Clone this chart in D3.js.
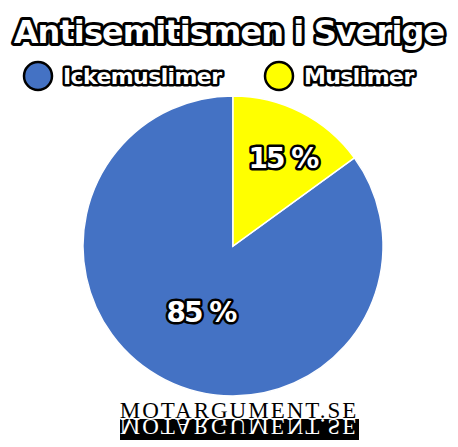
<!DOCTYPE html>
<html>
<head>
<meta charset="utf-8">
<script src="https://cdn.jsdelivr.net/npm/d3@7"></script>
<style>
  body { margin: 0; background: #fff; }
  text { font-family: "DejaVu Sans", sans-serif; }
</style>
</head>
<body>
<div id="chart"></div>
<script>
const WIDTH = 458;
const HEIGHT = 447;

const CATEGORIES = ["Ickemuslimer", "Muslimer"];
const VALUES = [85, 15];
const COLORS = ["#4472c4", "#ffff00"];
const TITLE = "Antisemitismen i Sverige";
const WATERMARK = "MOTARGUMENT.SE";

const svg = d3.select("#chart").append("svg")
    .attr("width", WIDTH)
    .attr("height", HEIGHT);

// titel
svg.append("text")
    .attr("x", 229)
    .attr("y", 43)
    .attr("text-anchor", "middle")
    .attr("font-size", 32)
    .attr("font-weight", "bold")
    .attr("letter-spacing", -0.9)
    .attr("fill", "white")
    .attr("stroke", "black")
    .attr("stroke-width", 6)
    .attr("stroke-linejoin", "round")
    .attr("paint-order", "stroke")
    .text(TITLE);

// legend
const legendX = [38, 279];
const legend = svg.selectAll("g.legend")
    .data(CATEGORIES)
    .join("g")
    .attr("class", "legend")
    .attr("transform", (d, i) => `translate(${legendX[i]}, 76)`);

legend.append("circle")
    .attr("r", 14)
    .attr("fill", (d, i) => COLORS[i])
    .attr("stroke", "black")
    .attr("stroke-width", 2.5);

legend.append("text")
    .attr("x", 25)
    .attr("y", 8)
    .attr("font-size", 22)
    .attr("font-weight", "bold")
    .attr("letter-spacing", -0.6)
    .attr("fill", "white")
    .attr("stroke", "black")
    .attr("stroke-width", 5)
    .attr("stroke-linejoin", "round")
    .attr("paint-order", "stroke")
    .text(d => d);

// paj
const cx = 233, cy = 246, r = 150;
const pie = d3.pie().sort(null).startAngle(Math.PI * 2).endAngle(0);
const arcs = pie(VALUES);
const arc = d3.arc().innerRadius(0).outerRadius(r);

const G = svg.append("g").attr("transform", `translate(${cx}, ${cy})`);

G.selectAll("path")
    .data(arcs)
    .join("path")
    .attr("d", arc)
    .attr("fill", (d, i) => COLORS[i])
    .attr("stroke", "white")
    .attr("stroke-width", 1.5);

const labelPos = [[-32, 76], [50, -78]];
G.selectAll("text.val")
    .data(arcs)
    .join("text")
    .attr("class", "val")
    .attr("x", (d, i) => labelPos[i][0])
    .attr("y", (d, i) => labelPos[i][1])
    .attr("text-anchor", "middle")
    .attr("font-size", 28)
    .attr("font-weight", "bold")
    .attr("letter-spacing", -2)
    .attr("fill", "white")
    .attr("stroke", "black")
    .attr("stroke-width", 5)
    .attr("stroke-linejoin", "round")
    .attr("paint-order", "stroke")
    .text(d => d.data + " %");

// vattenmärke
const wm = svg.append("g");
wm.append("rect")
    .attr("x", 120)
    .attr("y", 419)
    .attr("width", 239)
    .attr("height", 21)
    .attr("fill", "black");

wm.append("text")
    .attr("x", 239)
    .attr("y", 418)
    .attr("text-anchor", "middle")
    .attr("font-size", 23)
    .attr("letter-spacing", 2)
    .attr("fill", "black")
    .style("font-family", "'Liberation Serif', serif")
    .text(WATERMARK);

// spegling
wm.append("text")
    .attr("transform", "translate(0, 838) scale(1, -1)")
    .attr("x", 239)
    .attr("y", 419)
    .attr("text-anchor", "middle")
    .attr("font-size", 23)
    .attr("letter-spacing", 2)
    .attr("fill", "white")
    .style("font-family", "'Liberation Serif', serif")
    .text(WATERMARK);
</script>
</body>
</html>
